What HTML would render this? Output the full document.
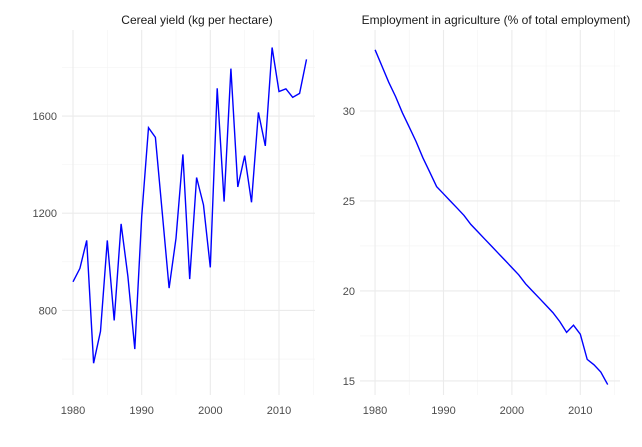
<!DOCTYPE html>
<html><head><meta charset="utf-8"><style>
body{margin:0;background:#fff;font-family:"Liberation Sans",sans-serif}
svg text{font-family:"Liberation Sans",sans-serif}
</style></head><body>
<svg id="c" width="642" height="442"></svg>
<script>
const years=[1980,1981,1982,1983,1984,1985,1986,1987,1988,1989,1990,1991,1992,1993,1994,1995,1996,1997,1998,1999,2000,2001,2002,2003,2004,2005,2006,2007,2008,2009,2010,2011,2012,2013,2014];
const cerealYield=[918,973,1088,583,714,1088,759,1156,940,641,1186,1552,1512,1200,892,1097,1442,929,1347,1234,977,1714,1248,1795,1308,1437,1245,1615,1477,1882,1701,1712,1677,1693,1833];
const agriEmployment=[33.4,32.5,31.6,30.8,29.9,29.1,28.3,27.4,26.6,25.8,25.4,25.0,24.6,24.2,23.7,23.3,22.9,22.5,22.1,21.7,21.3,20.9,20.4,20.0,19.6,19.2,18.8,18.3,17.7,18.1,17.6,16.2,15.9,15.5,14.8];
const xTicks=[1980,1990,2000,2010];
const leftYTicks=[800,1200,1600];
const rightYTicks=[15,20,25,30];
const NS="http://www.w3.org/2000/svg";
const svg=document.getElementById('c');
function mk(t,a,p){const e=document.createElementNS(NS,t);for(const k in a)e.setAttribute(k,a[k]);(p||svg).appendChild(e);return e;}
function panel(name,x0,x1,xmin,xmax,ymin,ymax,vals,yt,title,titleX){
  const y0=395,y1=30;
  const sx=v=>x0+(v-xmin)/(xmax-xmin)*(x1-x0);
  const sy=v=>y0-(v-ymin)/(ymax-ymin)*(y0-y1);
  const g=mk('g',{});
  
  
  for(let yr=1975;yr<=2020;yr+=10){const x=sx(yr);if(x>=x0&&x<=x1)mk('line',{x1:x,x2:x,y1:y1,y2:y0,stroke:'#f3f3f3','stroke-width':0.6},g);}
  for(let i=0;i<yt.length+1;i++){const v=yt[0]-(yt[1]-yt[0])/2+i*(yt[1]-yt[0]);const y=sy(v);if(y>=y1&&y<=y0)mk('line',{x1:x0,x2:x1,y1:y,y2:y,stroke:'#f3f3f3','stroke-width':0.6},g);}
  xTicks.forEach(t=>{const x=sx(t);mk('line',{x1:x,x2:x,y1:y1,y2:y0,stroke:'#ebebeb','stroke-width':1.1},g);
    const tx=mk('text',{x:x,y:414,'text-anchor':'middle','font-size':11,fill:'#4d4d4d'},g);tx.textContent=t;
    });
  yt.forEach(t=>{const y=sy(t);mk('line',{x1:x0,x2:x1,y1:y,y2:y,stroke:'#ebebeb','stroke-width':1.1},g);
    const tx=mk('text',{x:x0-5,y:y+4,'text-anchor':'end','font-size':11,fill:'#4d4d4d'},g);tx.textContent=t;
    });
  const d=vals.map((v,i)=>(i?'L':'M')+sx(years[i]).toFixed(1)+','+sy(v).toFixed(1)).join('');
  const p=mk('path',{d:d,fill:'none',stroke:'#0000ff','stroke-width':1.4},g);
  
  const tt=mk('text',{x:titleX,y:24,'text-anchor':'middle','font-size':12,fill:'#1a1a1a'},g);tt.textContent=title;
  
}
panel('cereal-yield',62,315,1978.4,2015.24,452,1954,cerealYield,leftYTicks,'Cereal yield (kg per hectare)',197);
panel('agri-employment',360,620,1977.8,2015.8,14.22,34.5,agriEmployment,rightYTicks,'Employment in agriculture (% of total employment)',496);
</script>
</body></html>
